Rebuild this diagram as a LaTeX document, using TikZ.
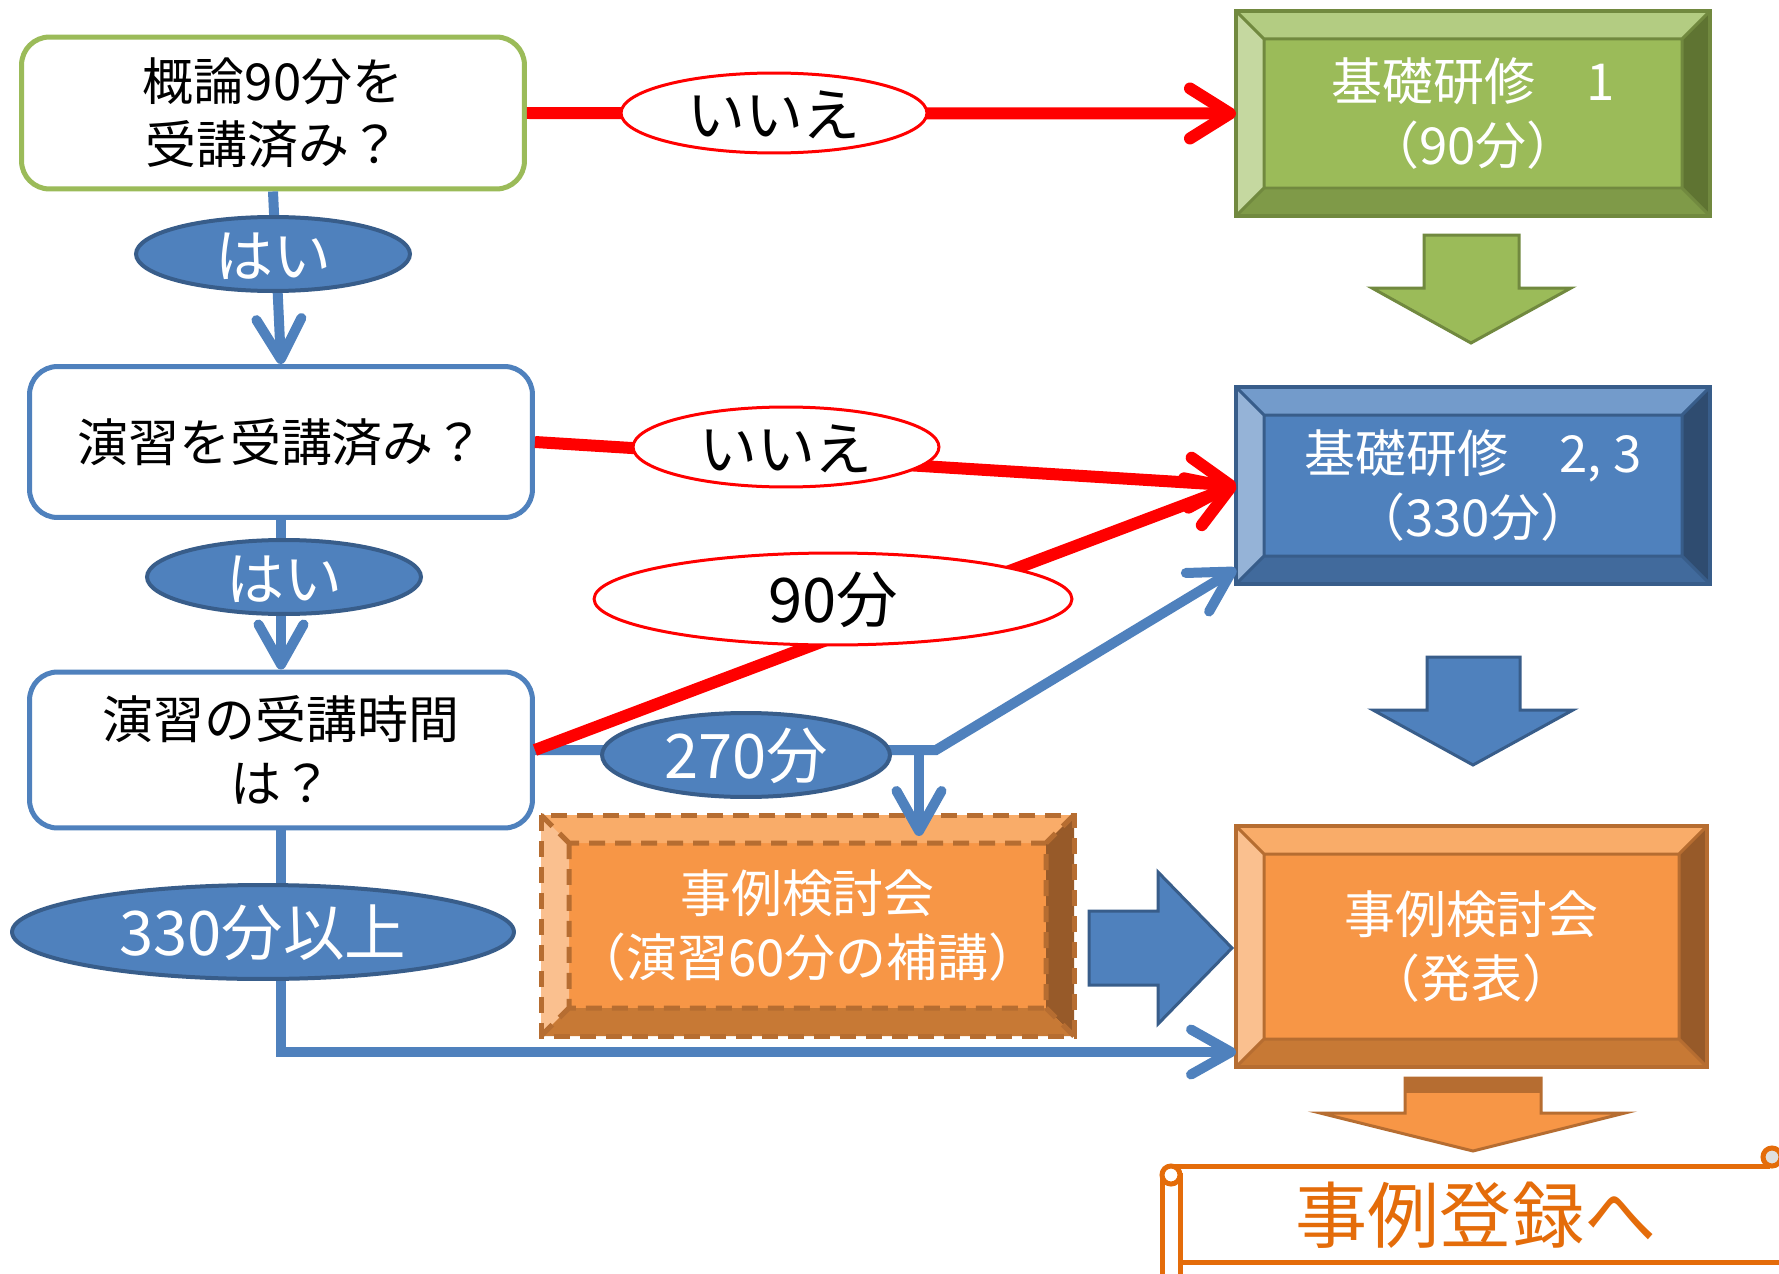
\documentclass[tikz,border=0pt]{standalone}
\usepackage{fontspec}
\setmainfont{Noto Sans CJK JP}
\usetikzlibrary{shapes.geometric,arrows.meta,calc}

\definecolor{gfill}{HTML}{9BBB59}
\definecolor{gline}{HTML}{71893F}
\definecolor{gtop}{HTML}{B3CC82}
\definecolor{gleft}{HTML}{C5D8A0}
\definecolor{gright}{HTML}{5F7432}
\definecolor{gbot}{HTML}{7F9A48}
\definecolor{bfill}{HTML}{4F81BD}
\definecolor{bline}{HTML}{385D8A}
\definecolor{btop}{HTML}{739BCB}
\definecolor{bleft}{HTML}{95B3D7}
\definecolor{bright}{HTML}{2F4C70}
\definecolor{bbot}{HTML}{416A9C}
\definecolor{ofill}{HTML}{F79646}
\definecolor{oline}{HTML}{B66D31}
\definecolor{otop}{HTML}{F9AC69}
\definecolor{oleft}{HTML}{FAC08F}
\definecolor{oright}{HTML}{975A29}
\definecolor{obot}{HTML}{C77935}
\definecolor{regtext}{HTML}{E46C0A}

\newcommand{\bevelnode}[8][]{%
  \node[bevelbox, fill=#7fill, minimum width={(#5-#3)*0.02cm}, minimum height={(#6-#4)*0.02cm}] (#2) at ({(#3+#5)/2},{(#4+#6)/2}) {#8};
  \fill[#7top] (#3,#4) -- (#5,#4) -- ({#5-28},{#4+28}) -- ({#3+28},{#4+28}) -- cycle;
  \fill[#7left] (#3,#4) -- ({#3+28},{#4+28}) -- ({#3+28},{#6-28}) -- (#3,#6) -- cycle;
  \fill[#7right] (#5,#4) -- ({#5-28},{#4+28}) -- ({#5-28},{#6-28}) -- (#5,#6) -- cycle;
  \fill[#7bot] (#3,#6) -- ({#3+28},{#6-28}) -- ({#5-28},{#6-28}) -- (#5,#6) -- cycle;
  \draw[#7line, line width=0.06cm, #1] ({#3+28},{#4+28}) rectangle ({#5-28},{#6-28})
    (#3,#4) -- ({#3+28},{#4+28}) (#5,#4) -- ({#5-28},{#4+28})
    (#3,#6) -- ({#3+28},{#6-28}) (#5,#6) -- ({#5-28},{#6-28});
  \draw[#7line, line width=0.08cm, #1] (#3,#4) rectangle (#5,#6);
}

\begin{document}
\begin{tikzpicture}[x=0.02cm, y=-0.02cm,
  qbox/.style={draw=#1, line width=0.1cm, rounded corners=0.56cm, fill=white, minimum width=10.06cm, align=center, inner sep=0, font=\fontsize{29}{36}\selectfont},
  bevelbox/.style={inner sep=0, outer sep=0, align=center, text=white, font=\fontsize{29}{36}\selectfont},
  noel/.style={ellipse, draw=red, line width=0.06cm, fill=white, inner sep=0, text height=27pt, text depth=0pt, font=\fontsize{33}{33}\selectfont},
  yesel/.style={ellipse, draw=bline, line width=0.08cm, fill=bfill, text=white, inner sep=0, text height=27pt, text depth=0pt, font=\fontsize{33}{33}\selectfont},
  noline/.style={draw=red, line width=0.24cm, -{Straight Barb[length=0.8cm, width=1cm, round]}},
  yesline/.style={draw=bfill, line width=0.2cm, -{Straight Barb[length=0.8cm, width=0.9cm, round]}},
  blockarrow/.style={fill=#1fill, draw=#1line, line width=0.06cm},
]
\fill[white] (0,0) rectangle (1779,1274);
\useasboundingbox (0,0) rectangle (1779,1274);

\node[qbox=gfill, minimum height=3.04cm] (q1) at (273,113) {概論90分を\\受講済み？};
\node[qbox=bfill, minimum height=3.02cm] (q2) at (281,442) {演習を受講済み？};
\node[qbox=bfill, minimum height=3.12cm] (q3) at (281,750) {演習の受講時間\\は？};

\bevelnode{b1}{1236}{11}{1710}{216}{g}{基礎研修　1\\（90分）}
\bevelnode{b23}{1236}{387}{1710}{584}{b}{基礎研修　2, 3\\（330分）}
\bevelnode[line width=0.1cm, dash pattern=on 0.32cm off 0.2cm]{b4}{541}{815}{1074}{1036}{o}{事例検討会\\（演習60分の補講）}
\bevelnode{b5}{1236}{826}{1707}{1067}{o}{事例検討会\\（発表）}

\filldraw[blockarrow=g] (1424,235) -- (1519,235) -- (1519,288) -- (1571,288) -- (1471,343) -- (1372,288) -- (1424,288) -- cycle;
\filldraw[blockarrow=b] (1427,657) -- (1520,657) -- (1520,710) -- (1573,710) -- (1473,765) -- (1373,710) -- (1427,710) -- cycle;
\filldraw[blockarrow=b] (1089,911) -- (1158,911) -- (1158,872) -- (1232,948) -- (1158,1024) -- (1158,985) -- (1089,985) -- cycle;
\filldraw[blockarrow=o] (1405,1078) -- (1541,1078) -- (1541,1113) -- (1625,1113) -- (1473,1151) -- (1320,1113) -- (1405,1113) -- cycle;
\fill[oline] (1405,1078) rectangle (1541,1093);

\draw[yesline] (q1.south) -- (q2.north);
\draw[yesline] (q2.south) -- (q3.north);
\coordinate (k1) at (919,750);
\coordinate (k2) at (936,750);
\draw[yesline] (q3.east) -- (k2) -- ($(b23.south west)+(0,-15)$);
\draw[yesline] (k1) -- ($(k1 |- b4.north)+(0,21)$);
\draw[yesline] (q3.south) |- ($(b5.south west)+(0,-15)$);
\draw[noline] (q1.east) -- (b1.west);
\draw[noline] (q2.east) -- (b23.west);
\draw[noline] (q3.east) -- (b23.west);

\node[noel, minimum width=6.12cm, minimum height=1.6cm] (n1) at (774,113) {いいえ};
\node[noel, minimum width=6.12cm, minimum height=1.6cm] (n2) at (786,447) {いいえ};
\node[noel, minimum width=9.56cm, minimum height=1.84cm, font=\fontsize{35}{35}\selectfont] (m90) at (833,599) {90分};
\node[yesel, minimum width=5.48cm, minimum height=1.48cm] (y1) at (273,254) {はい};
\node[yesel, minimum width=5.48cm, minimum height=1.48cm] (y2) at (284,577) {はい};
\node[yesel, minimum width=5.76cm, minimum height=1.68cm, font=\fontsize{35}{35}\selectfont] (m270) at (746,755) {270分};
\node[yesel, minimum width=10.04cm, minimum height=1.88cm, font=\fontsize{35}{35}\selectfont] (m330) at (263,932) {330分以上};

\fill[white] (1171,1166) rectangle (1779,1262);
\draw[regtext, line width=0.1cm] (1171,1166) -- (1770,1166);
\draw[regtext, line width=0.1cm] (1180,1262) -- (1779,1262);
\draw[regtext, line width=0.1cm, fill=white] (1162,1175) rectangle (1180,1290);
\draw[regtext, line width=0.1cm, fill=white] (1171,1175) circle[radius=0.18cm];
\draw[regtext, line width=0.1cm, fill=gray!25] (1772,1157) circle[radius=0.18cm];
\node[text=regtext, font=\fontsize{41}{41}\selectfont] (reg) at (1476,1215) {事例登録へ};
\end{tikzpicture}
\end{document}
